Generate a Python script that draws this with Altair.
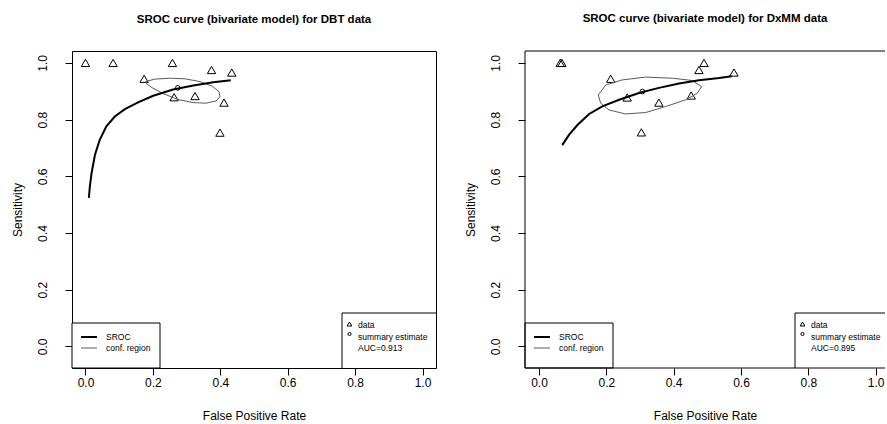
import altair as alt
import pandas as pd

# ---------------- data ----------------
# DBT panel
dbt_fpr = [0.000, 0.082, 0.258, 0.374, 0.434, 0.174, 0.263, 0.325, 0.411, 0.399]
dbt_sens = [1.000, 1.000, 1.000, 0.975, 0.966, 0.944, 0.879, 0.883, 0.860, 0.754]
dbt_sroc_fpr = [0.010, 0.013, 0.018, 0.028, 0.042, 0.062, 0.087, 0.117, 0.156, 0.201, 0.260, 0.320, 0.379, 0.431]
dbt_sroc_sens = [0.524, 0.564, 0.611, 0.675, 0.728, 0.776, 0.811, 0.837, 0.861, 0.884, 0.906, 0.920, 0.932, 0.939]
dbt_ell_fpr = [0.178, 0.206, 0.251, 0.295, 0.340, 0.376, 0.396, 0.399, 0.388, 0.358, 0.319, 0.274, 0.230, 0.197, 0.181, 0.178]
dbt_ell_sens = [0.934, 0.943, 0.946, 0.944, 0.934, 0.918, 0.899, 0.881, 0.866, 0.858, 0.860, 0.871, 0.892, 0.913, 0.927, 0.934]
dbt_summary = [0.274, 0.912]
dbt_auc = "AUC=0.913"

# DxMM panel
dxmm_fpr = [0.063, 0.068, 0.490, 0.475, 0.579, 0.213, 0.262, 0.356, 0.452, 0.304]
dxmm_sens = [1.000, 1.000, 1.000, 0.975, 0.966, 0.944, 0.878, 0.860, 0.885, 0.755]
dxmm_sroc_fpr = [0.069, 0.089, 0.114, 0.149, 0.188, 0.238, 0.297, 0.356, 0.416, 0.475, 0.535, 0.572]
dxmm_sroc_sens = [0.710, 0.746, 0.781, 0.820, 0.847, 0.870, 0.894, 0.912, 0.927, 0.939, 0.947, 0.953]
dxmm_ell_fpr = [0.176, 0.198, 0.247, 0.317, 0.396, 0.455, 0.483, 0.470, 0.436, 0.376, 0.317, 0.257, 0.208, 0.183, 0.176]
dxmm_ell_sens = [0.887, 0.922, 0.940, 0.950, 0.946, 0.938, 0.916, 0.893, 0.870, 0.846, 0.825, 0.820, 0.834, 0.858, 0.887]
dxmm_summary = [0.307, 0.899]
dxmm_auc = "AUC=0.895"

titles = ["SROC curve (bivariate model) for DBT data",
          "SROC curve (bivariate model) for DxMM data"]
tick_values = [0.0, 0.2, 0.4, 0.6, 0.8, 1.0]

FONT = "Liberation Sans"
H = 317
ONE = pd.DataFrame({"k": [0]})


def ltext(txt, x, y, size=8.5):
    return alt.Chart(ONE).mark_text(align="left", baseline="middle", font=FONT,
                                    fontSize=size, color="black").encode(
        x=alt.value(x), y=alt.value(y), text=alt.value(txt))


def rule(x, y, x2=None, y2=None, color="black", sw=1):
    enc = dict(x=alt.value(x), y=alt.value(y))
    if x2 is not None:
        enc["x2"] = alt.value(x2)
    if y2 is not None:
        enc["y2"] = alt.value(y2)
    return alt.Chart(ONE).mark_rule(color=color, strokeWidth=sw).encode(**enc)


def panel(title, fpr, sens, sf, ss, ef, es, summ, auc, xdom, width, full_box):
    xaxis = alt.Axis(title="False Positive Rate", values=tick_values, format=".1f",
                     grid=False, domain=False, tickSize=7, tickColor="black",
                     labelPadding=2, labelFontSize=12, labelColor="black", labelFont=FONT,
                     titleFontSize=12, titleFont=FONT, titleFontWeight="normal",
                     titleColor="black", titlePadding=22, labelFlush=False)
    yaxis = alt.Axis(title="Sensitivity", values=tick_values, format=".1f",
                     grid=False, domain=False, tickSize=7, tickColor="black",
                     labelAngle=270, labelAlign="center", labelBaseline="bottom",
                     labelPadding=16, labelFontSize=12, labelColor="black", labelFont=FONT,
                     titleFontSize=12, titleFont=FONT, titleFontWeight="normal",
                     titleColor="black", titlePadding=13, labelFlush=False,
                     minExtent=35, maxExtent=35)
    xs = alt.Scale(domain=xdom, nice=False, zero=False)
    ys = alt.Scale(domain=[-0.076, 1.042], nice=False, zero=False)

    pts = pd.DataFrame({"fpr": fpr, "sens": sens})
    sroc = pd.DataFrame({"fpr": sf, "sens": ss})
    ell = pd.DataFrame({"fpr": ef, "sens": es, "i": list(range(len(ef)))})
    sm = pd.DataFrame({"fpr": [summ[0]], "sens": [summ[1]]})

    base_pts = alt.Chart(pts).mark_point(shape="triangle-up", filled=False, color="black",
                                         size=70, strokeWidth=1, opacity=1).encode(
        x=alt.X("fpr:Q", scale=xs, axis=xaxis),
        y=alt.Y("sens:Q", scale=ys, axis=yaxis))
    ell_line = alt.Chart(ell).mark_line(color="#5a5a5a", strokeWidth=1).encode(
        x="fpr:Q", y="sens:Q", order="i:Q")
    sroc_line = alt.Chart(sroc).mark_line(color="black", strokeWidth=2).encode(
        x="fpr:Q", y="sens:Q")
    summ_pt = alt.Chart(sm).mark_point(shape="circle", filled=False, color="black",
                                       size=22, strokeWidth=1, opacity=1).encode(
        x="fpr:Q", y="sens:Q")

    # legends (styling, pixel positions inside the plot area)
    lg1_box = alt.Chart(ONE).mark_rect(fill="white", stroke="black", strokeWidth=1).encode(
        x=alt.value(0), x2=alt.value(88), y=alt.value(272), y2=alt.value(H))
    lg1_l1 = rule(9, 286, x2=25, sw=2)
    lg1_l2 = rule(9, 297, x2=25, color="#5a5a5a")
    lg2_bg = alt.Chart(ONE).mark_rect(fill="white", strokeWidth=0).encode(
        x=alt.value(270), x2=alt.value(width), y=alt.value(262), y2=alt.value(H))
    lg2_tri = alt.Chart(ONE).mark_point(shape="triangle-up", filled=False, color="black",
                                        size=22, strokeWidth=1, opacity=1).encode(
        x=alt.value(277.5), y=alt.value(273))
    lg2_cir = alt.Chart(ONE).mark_point(shape="circle", filled=False, color="black",
                                        size=10, strokeWidth=1, opacity=1).encode(
        x=alt.value(277.5), y=alt.value(283))

    layers = [base_pts, ell_line, sroc_line, summ_pt,
              lg1_box, lg1_l1, lg1_l2, ltext("SROC", 34, 286), ltext("conf. region", 34, 297),
              lg2_bg, rule(270, 262, x2=width), rule(270, 262, y2=H),
              lg2_tri, lg2_cir, ltext("data", 286, 274),
              ltext("summary estimate", 286, 285.5), ltext(auc, 286, 297)]
    if not full_box:
        layers += [rule(0, 0, x2=width), rule(0, H, x2=width), rule(0, 0, y2=H)]
    ch = alt.layer(*layers).properties(
        width=width, height=H,
        title=alt.TitleParams(title, fontSize=11.5, fontWeight="bold", font=FONT,
                              anchor="middle", offset=17, baseline="alphabetic",
                              color="black"))
    if not full_box:
        ch = ch.properties(view=alt.ViewBackground(stroke=None))
    return ch


left = panel(titles[0], dbt_fpr, dbt_sens, dbt_sroc_fpr, dbt_sroc_sens,
             dbt_ell_fpr, dbt_ell_sens, dbt_summary, dbt_auc,
             [-0.04, 1.04], 364, True)
right = panel(titles[1], dxmm_fpr, dxmm_sens, dxmm_sroc_fpr, dxmm_sroc_sens,
              dxmm_ell_fpr, dxmm_ell_sens, dxmm_summary, dxmm_auc,
              [-0.0416, 1.0276], 360, False)

chart = alt.hconcat(left, right, spacing=27).properties(
    padding={"left": 10, "top": 13, "right": 0, "bottom": 0},
    background="white",
).configure_view(stroke="black", strokeWidth=1)

chart.save("out.html", embed_options={"renderer": "svg", "actions": False})
